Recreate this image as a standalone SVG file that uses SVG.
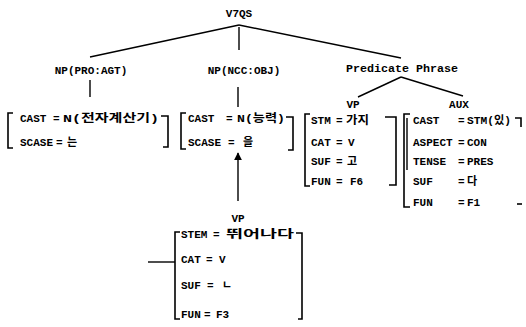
<svg xmlns="http://www.w3.org/2000/svg" width="526" height="327" viewBox="0 0 526 327">
<style>
text{font-family:"Liberation Mono","Noto Sans CJK KR",monospace;font-weight:bold;font-size:11px;fill:#000}
.c{text-anchor:middle}
.ln{stroke:#000;stroke-width:1.4;fill:none}
.br{stroke:#000;stroke-width:1.6;fill:none}
</style>
<defs>
<marker id="ah" viewBox="0 0 10 10" refX="9" refY="5" markerWidth="8" markerHeight="10" orient="auto" markerUnits="userSpaceOnUse">
<path d="M0,0 L10,5 L0,10 Z" fill="#000"/>
</marker>
</defs>
<rect width="526" height="327" fill="#fff"/>
<g id="connectors">
<path class="ln" d="M239,25 L90,57"/>
<path class="ln" d="M239,27 L239,50"/>
<path class="ln" d="M239,25 L401,58"/>
<path class="ln" d="M90,80 L90,97"/>
<path class="ln" d="M238,87 L238,107"/>
<path class="ln" d="M401,77 L358,97"/>
<path class="ln" d="M401,77 L463,96"/>
<path class="ln" d="M238,201 L238,153" marker-end="url(#ah)"/>
<path class="ln" d="M148,262 L175,262"/>
</g>
<g id="root"><text class="c" x="239" y="17">V7QS</text></g>
<g id="np-agt"><text class="c" x="91" y="74">NP(PRO:AGT)</text></g>
<g id="np-obj"><text class="c" x="244" y="74">NP(NCC:OBJ)</text></g>
<g id="pred"><text class="c" x="402" y="72" textLength="112" lengthAdjust="spacingAndGlyphs">Predicate Phrase</text></g>
<g id="vp-label"><text class="c" x="353" y="108">VP</text></g>
<g id="aux-label"><text class="c" x="459" y="108">AUX</text></g>
<g id="m-agt">
<path class="br" d="M13,113 H8 V148 H13"/>
<path class="br" d="M161,116 H168 V147 H163"/>
<text x="20" y="122">CAST</text><text x="53" y="122">=</text>
<text x="63" y="122" textLength="96" lengthAdjust="spacingAndGlyphs">N(전자계산기)</text>
<text x="20" y="146">SCASE</text><text x="56" y="146">=</text><text x="67" y="146">는</text>
</g>
<g id="m-obj">
<path class="br" d="M186,113 H181 V149 H186"/>
<path class="br" d="M286,117 H293 V150 H288"/>
<text x="188" y="122">CAST</text><text x="226" y="122">=</text>
<text x="237" y="122" textLength="48" lengthAdjust="spacingAndGlyphs">N(능력)</text>
<text x="188" y="146">SCASE</text><text x="228" y="146">=</text><text x="243" y="146">을</text>
</g>
<g id="m-vp">
<path class="br" d="M310,114 H305 V186 H310"/>
<path class="br" d="M385,117 H396 V185 H389"/>
<text x="311" y="124">STM</text><text x="336" y="124">=</text>
<text x="346" y="124" textLength="23" lengthAdjust="spacingAndGlyphs">가지</text>
<text x="311" y="146">CAT</text><text x="336" y="146">=</text><text x="348" y="146">V</text>
<text x="311" y="165">SUF</text><text x="336" y="165">=</text><text x="347" y="165">고</text>
<text x="311" y="185">FUN</text><text x="336" y="185">=</text><text x="350" y="185">F6</text>
</g>
<g id="m-aux">
<path class="br" d="M410,114 H404 V207 H410"/>
<path class="ln" d="M407,118 V170"/>
<path class="br" d="M515,118 H521 V127"/>
<path class="br" d="M517,204 H522"/>
<text x="413" y="124">CAST</text><text x="458" y="124">=</text>
<text x="467" y="124" textLength="44" lengthAdjust="spacingAndGlyphs">STM(있)</text>
<text x="413" y="146">ASPECT</text><text x="458" y="146">=</text><text x="467" y="146">CON</text>
<text x="413" y="165">TENSE</text><text x="458" y="165">=</text><text x="467" y="165">PRES</text>
<text x="413" y="185">SUF</text><text x="458" y="185">=</text><text x="467" y="185">다</text>
<text x="413" y="206">FUN</text><text x="458" y="206">=</text><text x="467" y="206">F1</text>
</g>
<g id="m-relvp">
<text class="c" x="238" y="222">VP</text>
<path class="br" d="M180,232 H175 V319 H180"/>
<path class="br" d="M296,233 H302 V319 H298"/>
<text x="181" y="238">STEM</text><text x="213" y="238">=</text>
<text x="226" y="238" textLength="68" lengthAdjust="spacingAndGlyphs">뛰어나다</text>
<text x="181" y="263">CAT</text><text x="206" y="263">=</text><text x="219" y="263">V</text>
<text x="181" y="289">SUF</text><text x="207" y="289">=</text><text x="222" y="289">ㄴ</text>
<text x="181" y="318">FUN</text><text x="204" y="318">=</text><text x="216" y="318">F3</text>
</g>
</svg>
